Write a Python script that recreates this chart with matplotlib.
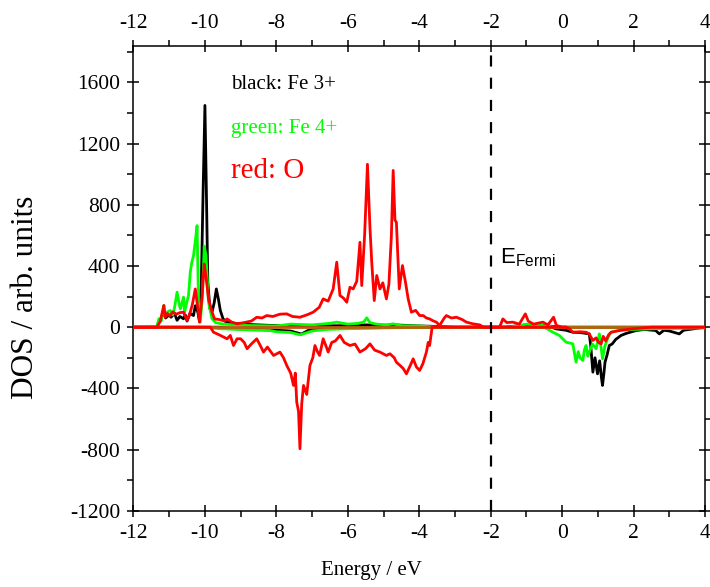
import matplotlib
matplotlib.use("Agg")
import matplotlib.pyplot as plt
from matplotlib.ticker import MultipleLocator

plt.rcParams['font.family'] = ['Liberation Serif', 'DejaVu Serif']
plt.rcParams['axes.unicode_minus'] = False
plt.rcParams['mathtext.fontset'] = 'custom'
plt.rcParams['mathtext.rm'] = 'Liberation Sans'

# Fe3+ projected DOS, spin up / spin down
fe3_up_E = [-12.0, -11.35, -11.3, -11.2, -11.15, -11.1, -11.0, -10.95, -10.85, -10.78, -10.7, -10.6,
            -10.55, -10.5, -10.42, -10.32, -10.27, -10.2, -10.15, -10.1, -10.05, -10.0, -9.96, -9.92,
            -9.86, -9.8, -9.74, -9.68, -9.62, -9.57, -9.5, -9.45, -9.3, -9.0, -8.5, -8.0, -7.0, -6.0,
            -5.5, -5.0, -4.7, -4.0, -3.5, -3.0, -1.6, -1.0, -0.5, 0.0, 4.0]
fe3_up = [0, 0, 30, 70, 110, 60, 80, 65, 90, 45, 70, 55,
          80, 40, 90, 76, 140, 100, 35, 300, 900, 1450, 900, 300,
          120, 100, 160, 250, 180, 110, 60, 40, 30, 20, 15, 10, 8, 10,
          15, 12, 15, 8, 5, 0, 0, 15, 10, 0, 0]

fe3_dn_E = [-12.0, -9.6, -9.2, -8.5, -8.0, -7.6, -7.3, -7.1, -6.6, -6.0, -3.5, -0.3, -0.17, 0.1, 0.3,
            0.5, 0.65, 0.76, 0.8, 0.86, 0.92, 0.99, 1.05, 1.1, 1.13, 1.17, 1.2, 1.26, 1.32, 1.4, 1.5,
            1.65, 1.8, 2.07, 2.3, 2.62, 2.72, 2.85, 3.0, 3.28, 3.4, 3.7, 4.0]
fe3_dn = [0, 0, -10, -15, -20, -25, -45, -20, -10, -5, 0, 0, -11, -20, -33,
          -35, -40, -44, -120, -294, -200, -305, -220, -330, -381, -300, -229, -180, -120, -110, -80,
          -54, -40, -22, -15, -22, -44, -20, -25, -44, -20, -10, 0]

# Fe4+ projected DOS, spin up / spin down
fe4_up_E = [-12.0, -11.35, -11.29, -11.22, -11.15, -11.13, -11.05, -10.97, -10.9, -10.85, -10.78,
            -10.72, -10.69, -10.64, -10.6, -10.57, -10.52, -10.46, -10.41, -10.37, -10.32, -10.27,
            -10.22, -10.18, -10.13, -10.07, -10.02, -9.97, -9.9, -9.8, -9.7, -9.5, -9.0, -8.5, -8.0,
            -7.6, -7.0, -6.5, -6.31, -6.0, -5.7, -5.55, -5.47, -5.38, -5.2, -4.9, -4.73, -4.5, -4.0,
            -3.5, -1.5, -1.2, -1.0, -0.7, -0.5, -0.2, 4.0]
fe4_up = [0, 0, 54, 40, 142, 85, 100, 109, 80, 130, 229,
          150, 120, 160, 196, 98, 150, 207, 359, 420, 468, 560,
          664, 163, 33, 200, 530, 470, 163, 54, 30, 20, 12, 10, 8,
          20, 15, 25, 33, 20, 25, 35, 61, 30, 20, 15, 22, 10, 8,
          0, 0, 10, 20, 15, 10, 0, 0]

fe4_dn_E = [-12.0, -10.0, -9.6, -9.0, -8.5, -8.18, -8.0, -7.6, -7.34, -7.2, -7.0, -6.6, -6.0, -5.0,
            -3.5, -0.5, -0.26, -0.08, 0.11, 0.3, 0.35, 0.39, 0.45, 0.5, 0.58, 0.62, 0.67, 0.72, 0.76,
            0.85, 0.95, 1.0, 1.04, 1.1, 1.13, 1.2, 1.3, 1.37, 1.6, 2.0, 2.6, 3.2, 4.0]
fe4_dn = [0, 0, -10, -15, -20, -22, -30, -35, -50, -40, -25, -15, -10, -5,
          0, 0, -33, -54, -98, -109, -180, -229, -160, -200, -218, -150, -120, -190, -163,
          -110, -141, -90, -44, -150, -207, -120, -60, -33, -20, -15, -10, -8, -5]

# O projected DOS, spin up / spin down
o_up_E = [-12.0, -11.34, -11.25, -11.15, -11.11, -11.05, -10.98, -10.9, -10.8, -10.7, -10.6, -10.5,
          -10.45, -10.41, -10.35, -10.27, -10.22, -10.15, -10.08, -10.02, -9.97, -9.9, -9.8, -9.73,
          -9.6, -9.45, -9.38, -9.25, -9.1, -8.9, -8.7, -8.55, -8.4, -8.27, -8.1, -7.9, -7.71, -7.55,
          -7.34, -7.15, -6.97, -6.8, -6.69, -6.55, -6.41, -6.31, -6.22, -6.12, -6.03, -5.94, -5.85,
          -5.75, -5.66, -5.61, -5.53, -5.45, -5.38, -5.33, -5.26, -5.19, -5.1, -5.02, -4.92, -4.85,
          -4.78, -4.73, -4.68, -4.64, -4.56, -4.47, -4.39, -4.31, -4.22, -4.1, -3.99, -3.89, -3.8,
          -3.71, -3.6, -3.52, -3.43, -3.3, -3.24, -3.1, -2.96, -2.8, -2.68, -2.5, -2.31, -2.2, -1.75,
          -1.66, -1.55, -1.38, -1.2, -1.03, -0.95, -0.8, -0.54, -0.4, -0.24, -0.16, 0.0, 0.1]
o_up = [0, 0, 40, 142, 65, 90, 75, 100, 85, 95, 98, 44,
        70, 98, 150, 250, 163, 33, 200, 413, 330, 185, 98, 54,
        50, 40, 54, 33, 22, 30, 40, 65, 60, 76, 70, 85, 87, 70,
        65, 80, 98, 130, 185, 170, 250, 425, 207, 190, 163, 261, 250,
        300, 555, 272, 600, 1065, 650, 425, 174, 338, 250, 290, 185, 280,
        600, 1025, 700, 686, 250, 403, 300, 185, 98, 110, 76, 76, 60,
        54, 40, 33, 11, 60, 76, 60, 65, 50, 33, 22, 15, 0, 0,
        54, 30, 33, 20, 87, 40, 20, 33, 15, 65, 11, 0, 0]

o_dn_E = [-12.0, -9.85, -9.76, -9.6, -9.38, -9.29, -9.2, -9.1, -9.0, -8.9, -8.82, -8.7, -8.55, -8.45,
          -8.36, -8.25, -8.08, -7.9, -7.8, -7.71, -7.6, -7.52, -7.47, -7.43, -7.38, -7.34, -7.29,
          -7.24, -7.15, -7.06, -6.98, -6.92, -6.85, -6.79, -6.69, -6.6, -6.55, -6.45, -6.35, -6.22,
          -6.1, -5.94, -5.8, -5.66, -5.5, -5.38, -5.25, -5.1, -4.92, -4.82, -4.7, -4.64, -4.54,
          -4.45, -4.36, -4.25, -4.17, -4.08, -3.99, -3.9, -3.8, -3.75, -3.71, -3.64, 0.1, 0.2, 0.3,
          0.5, 0.67, 0.76, 0.86, 0.95, 1.02, 1.09, 1.15, 1.22, 1.3, 1.37, 1.65, 2.0, 2.5, 4.0]
o_dn = [0, 0, -33, -50, -76, -54, -120, -76, -76, -100, -141, -110, -76, -120,
        -163, -130, -185, -163, -200, -250, -300, -381, -300, -490, -550, -795, -500,
        -381, -440, -250, -200, -120, -160, -185, -76, -130, -163, -100, -90, -54,
        -100, -120, -110, -163, -140, -109, -150, -163, -185, -174, -200, -229, -250,
        -270, -305, -250, -207, -260, -283, -240, -163, -100, -120, 0, 0, -10, -33,
        -30, -33, -45, -87, -70, -100, -109, -60, -90, -50, -33, -20, -10, 0, 0]

E_FERMI = -2.0

fig = plt.figure(figsize=(7.10, 5.87), dpi=100)
ax = fig.add_axes([0.188, 0.130, 0.805, 0.792])

lw = 2.0
ax.plot(fe3_up_E, fe3_up, color='black', lw=lw, zorder=2)
ax.plot(fe3_dn_E, fe3_dn, color='black', lw=lw, zorder=2)
ax.plot(fe4_up_E, fe4_up, color='#00ff00', lw=lw, zorder=3)
ax.plot(fe4_dn_E, fe4_dn, color='#00ff00', lw=lw, zorder=3)
ax.axhline(0, color='#bf5a10', lw=lw, zorder=4)
ax.plot(o_up_E, o_up, color='#ff0000', lw=lw, zorder=5)
ax.plot(o_dn_E, o_dn, color='#ff0000', lw=lw, zorder=5)

ax.axvline(E_FERMI, color='black', lw=1.6, dashes=(5, 5), zorder=6)

ax.set_xlim(-12, 4)
ax.set_ylim(-1200, 1840)
ax.xaxis.set_major_locator(MultipleLocator(2))
ax.xaxis.set_minor_locator(MultipleLocator(1))
ax.yaxis.set_major_locator(MultipleLocator(400))
ax.yaxis.set_minor_locator(MultipleLocator(200))
ax.tick_params(which='both', top=True, right=True, labeltop=True, width=1.1)
ax.tick_params(which='major', direction='inout', length=9, labelsize=15.5, pad=5)
ax.tick_params(which='minor', direction='out', length=4)
for s in ax.spines.values():
    s.set_linewidth(1.1)

ax.set_xlabel('Energy / eV', fontsize=15)
ax.xaxis.set_label_coords(0.417, -0.108)
ax.set_ylabel('DOS / arb. units', fontsize=22.5)
ax.yaxis.set_label_coords(-0.164, 0.458)

ax.text(-9.26, 1560, 'black: Fe 3+', color='black', fontsize=15)
ax.text(-9.26, 1270, 'green: Fe 4+', color='#00ff00', fontsize=15)
ax.text(-9.26, 975, 'red: O', color='#ff0000', fontsize=21)
ax.text(-1.75, 415, r'$\mathregular{E_{Fermi}}$', fontsize=16,
        family=['Liberation Sans', 'DejaVu Sans'])

fig.savefig('out.png', dpi=100)
